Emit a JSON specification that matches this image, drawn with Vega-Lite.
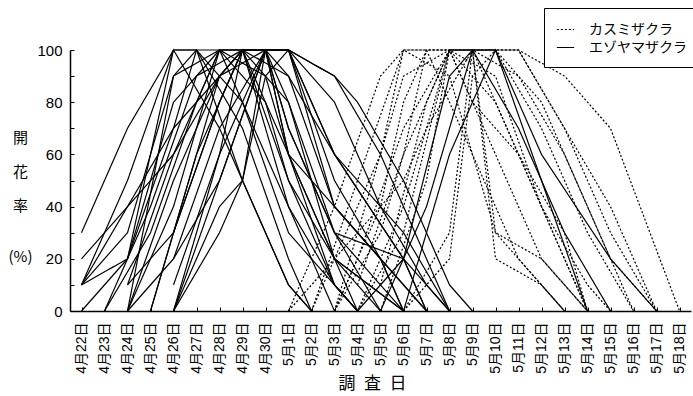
{
  "$schema": "https://vega.github.io/schema/vega-lite/v6.json",
  "width": 621,
  "height": 261,
  "autosize": {"type": "none"},
  "padding": {"left": 70, "top": 50, "right": 2, "bottom": 85},
  "background": "white",
  "config": {
    "view": {"stroke": null},
    "font": "Liberation Sans",
    "axis": {
      "grid": false,
      "domainColor": "black",
      "domainWidth": 1.5,
      "tickColor": "black",
      "tickWidth": 1,
      "labelColor": "black",
      "titleColor": "black",
      "titleFontWeight": "normal"
    }
  },
  "datasets": {
    "bloom": [
      {"tree": "E01", "species": "エゾヤマザクラ", "date": "4月22日", "pct": 30},
      {"tree": "E01", "species": "エゾヤマザクラ", "date": "4月24日", "pct": 70},
      {"tree": "E01", "species": "エゾヤマザクラ", "date": "4月26日", "pct": 100},
      {"tree": "E01", "species": "エゾヤマザクラ", "date": "4月28日", "pct": 100},
      {"tree": "E01", "species": "エゾヤマザクラ", "date": "4月30日", "pct": 60},
      {"tree": "E01", "species": "エゾヤマザクラ", "date": "5月2日", "pct": 20},
      {"tree": "E01", "species": "エゾヤマザクラ", "date": "5月3日", "pct": 0},

      {"tree": "E02", "species": "エゾヤマザクラ", "date": "4月22日", "pct": 20},
      {"tree": "E02", "species": "エゾヤマザクラ", "date": "4月24日", "pct": 40},
      {"tree": "E02", "species": "エゾヤマザクラ", "date": "4月26日", "pct": 60},
      {"tree": "E02", "species": "エゾヤマザクラ", "date": "4月28日", "pct": 90},
      {"tree": "E02", "species": "エゾヤマザクラ", "date": "4月29日", "pct": 100},
      {"tree": "E02", "species": "エゾヤマザクラ", "date": "5月1日", "pct": 60},
      {"tree": "E02", "species": "エゾヤマザクラ", "date": "5月3日", "pct": 20},
      {"tree": "E02", "species": "エゾヤマザクラ", "date": "5月4日", "pct": 0},

      {"tree": "E03", "species": "エゾヤマザクラ", "date": "4月22日", "pct": 10},
      {"tree": "E03", "species": "エゾヤマザクラ", "date": "4月24日", "pct": 30},
      {"tree": "E03", "species": "エゾヤマザクラ", "date": "4月26日", "pct": 90},
      {"tree": "E03", "species": "エゾヤマザクラ", "date": "4月27日", "pct": 100},
      {"tree": "E03", "species": "エゾヤマザクラ", "date": "4月29日", "pct": 70},
      {"tree": "E03", "species": "エゾヤマザクラ", "date": "5月1日", "pct": 20},
      {"tree": "E03", "species": "エゾヤマザクラ", "date": "5月2日", "pct": 0},

      {"tree": "E04", "species": "エゾヤマザクラ", "date": "4月22日", "pct": 10},
      {"tree": "E04", "species": "エゾヤマザクラ", "date": "4月24日", "pct": 20},
      {"tree": "E04", "species": "エゾヤマザクラ", "date": "4月26日", "pct": 80},
      {"tree": "E04", "species": "エゾヤマザクラ", "date": "4月28日", "pct": 100},
      {"tree": "E04", "species": "エゾヤマザクラ", "date": "4月30日", "pct": 100},
      {"tree": "E04", "species": "エゾヤマザクラ", "date": "5月1日", "pct": 80},
      {"tree": "E04", "species": "エゾヤマザクラ", "date": "5月3日", "pct": 30},
      {"tree": "E04", "species": "エゾヤマザクラ", "date": "5月5日", "pct": 0},

      {"tree": "E05", "species": "エゾヤマザクラ", "date": "4月22日", "pct": 10},
      {"tree": "E05", "species": "エゾヤマザクラ", "date": "4月24日", "pct": 50},
      {"tree": "E05", "species": "エゾヤマザクラ", "date": "4月26日", "pct": 100},
      {"tree": "E05", "species": "エゾヤマザクラ", "date": "4月28日", "pct": 70},
      {"tree": "E05", "species": "エゾヤマザクラ", "date": "4月30日", "pct": 30},
      {"tree": "E05", "species": "エゾヤマザクラ", "date": "5月1日", "pct": 10},
      {"tree": "E05", "species": "エゾヤマザクラ", "date": "5月2日", "pct": 0},

      {"tree": "E06", "species": "エゾヤマザクラ", "date": "4月22日", "pct": 0},
      {"tree": "E06", "species": "エゾヤマザクラ", "date": "4月24日", "pct": 20},
      {"tree": "E06", "species": "エゾヤマザクラ", "date": "4月26日", "pct": 70},
      {"tree": "E06", "species": "エゾヤマザクラ", "date": "4月28日", "pct": 90},
      {"tree": "E06", "species": "エゾヤマザクラ", "date": "4月29日", "pct": 100},
      {"tree": "E06", "species": "エゾヤマザクラ", "date": "5月1日", "pct": 40},
      {"tree": "E06", "species": "エゾヤマザクラ", "date": "5月3日", "pct": 10},
      {"tree": "E06", "species": "エゾヤマザクラ", "date": "5月4日", "pct": 0},

      {"tree": "E07", "species": "エゾヤマザクラ", "date": "4月23日", "pct": 0},
      {"tree": "E07", "species": "エゾヤマザクラ", "date": "4月25日", "pct": 40},
      {"tree": "E07", "species": "エゾヤマザクラ", "date": "4月27日", "pct": 90},
      {"tree": "E07", "species": "エゾヤマザクラ", "date": "4月29日", "pct": 100},
      {"tree": "E07", "species": "エゾヤマザクラ", "date": "4月30日", "pct": 100},
      {"tree": "E07", "species": "エゾヤマザクラ", "date": "5月1日", "pct": 60},
      {"tree": "E07", "species": "エゾヤマザクラ", "date": "5月3日", "pct": 20},
      {"tree": "E07", "species": "エゾヤマザクラ", "date": "5月6日", "pct": 0},

      {"tree": "E08", "species": "エゾヤマザクラ", "date": "4月24日", "pct": 0},
      {"tree": "E08", "species": "エゾヤマザクラ", "date": "4月26日", "pct": 50},
      {"tree": "E08", "species": "エゾヤマザクラ", "date": "4月28日", "pct": 90},
      {"tree": "E08", "species": "エゾヤマザクラ", "date": "4月30日", "pct": 100},
      {"tree": "E08", "species": "エゾヤマザクラ", "date": "5月1日", "pct": 100},
      {"tree": "E08", "species": "エゾヤマザクラ", "date": "5月3日", "pct": 60},
      {"tree": "E08", "species": "エゾヤマザクラ", "date": "5月6日", "pct": 20},
      {"tree": "E08", "species": "エゾヤマザクラ", "date": "5月8日", "pct": 0},

      {"tree": "E09", "species": "エゾヤマザクラ", "date": "4月24日", "pct": 0},
      {"tree": "E09", "species": "エゾヤマザクラ", "date": "4月26日", "pct": 40},
      {"tree": "E09", "species": "エゾヤマザクラ", "date": "4月28日", "pct": 100},
      {"tree": "E09", "species": "エゾヤマザクラ", "date": "4月29日", "pct": 100},
      {"tree": "E09", "species": "エゾヤマザクラ", "date": "5月1日", "pct": 50},
      {"tree": "E09", "species": "エゾヤマザクラ", "date": "5月3日", "pct": 10},
      {"tree": "E09", "species": "エゾヤマザクラ", "date": "5月4日", "pct": 0},

      {"tree": "E10", "species": "エゾヤマザクラ", "date": "4月24日", "pct": 0},
      {"tree": "E10", "species": "エゾヤマザクラ", "date": "4月26日", "pct": 90},
      {"tree": "E10", "species": "エゾヤマザクラ", "date": "4月28日", "pct": 100},
      {"tree": "E10", "species": "エゾヤマザクラ", "date": "4月30日", "pct": 80},
      {"tree": "E10", "species": "エゾヤマザクラ", "date": "5月1日", "pct": 50},
      {"tree": "E10", "species": "エゾヤマザクラ", "date": "5月3日", "pct": 20},
      {"tree": "E10", "species": "エゾヤマザクラ", "date": "5月5日", "pct": 0},

      {"tree": "E11", "species": "エゾヤマザクラ", "date": "4月24日", "pct": 10},
      {"tree": "E11", "species": "エゾヤマザクラ", "date": "4月26日", "pct": 30},
      {"tree": "E11", "species": "エゾヤマザクラ", "date": "4月28日", "pct": 80},
      {"tree": "E11", "species": "エゾヤマザクラ", "date": "4月29日", "pct": 100},
      {"tree": "E11", "species": "エゾヤマザクラ", "date": "5月1日", "pct": 90},
      {"tree": "E11", "species": "エゾヤマザクラ", "date": "5月3日", "pct": 40},
      {"tree": "E11", "species": "エゾヤマザクラ", "date": "5月6日", "pct": 10},
      {"tree": "E11", "species": "エゾヤマザクラ", "date": "5月7日", "pct": 0},

      {"tree": "E12", "species": "エゾヤマザクラ", "date": "4月24日", "pct": 10},
      {"tree": "E12", "species": "エゾヤマザクラ", "date": "4月26日", "pct": 60},
      {"tree": "E12", "species": "エゾヤマザクラ", "date": "4月28日", "pct": 100},
      {"tree": "E12", "species": "エゾヤマザクラ", "date": "4月30日", "pct": 100},
      {"tree": "E12", "species": "エゾヤマザクラ", "date": "5月1日", "pct": 70},
      {"tree": "E12", "species": "エゾヤマザクラ", "date": "5月3日", "pct": 30},
      {"tree": "E12", "species": "エゾヤマザクラ", "date": "5月6日", "pct": 20},
      {"tree": "E12", "species": "エゾヤマザクラ", "date": "5月7日", "pct": 0},

      {"tree": "E13", "species": "エゾヤマザクラ", "date": "4月24日", "pct": 20},
      {"tree": "E13", "species": "エゾヤマザクラ", "date": "4月26日", "pct": 100},
      {"tree": "E13", "species": "エゾヤマザクラ", "date": "4月27日", "pct": 100},
      {"tree": "E13", "species": "エゾヤマザクラ", "date": "4月29日", "pct": 50},
      {"tree": "E13", "species": "エゾヤマザクラ", "date": "5月1日", "pct": 10},
      {"tree": "E13", "species": "エゾヤマザクラ", "date": "5月2日", "pct": 0},

      {"tree": "E14", "species": "エゾヤマザクラ", "date": "4月25日", "pct": 0},
      {"tree": "E14", "species": "エゾヤマザクラ", "date": "4月27日", "pct": 60},
      {"tree": "E14", "species": "エゾヤマザクラ", "date": "4月29日", "pct": 100},
      {"tree": "E14", "species": "エゾヤマザクラ", "date": "4月30日", "pct": 100},
      {"tree": "E14", "species": "エゾヤマザクラ", "date": "5月1日", "pct": 60},
      {"tree": "E14", "species": "エゾヤマザクラ", "date": "5月3日", "pct": 10},
      {"tree": "E14", "species": "エゾヤマザクラ", "date": "5月4日", "pct": 0},

      {"tree": "E15", "species": "エゾヤマザクラ", "date": "4月26日", "pct": 0},
      {"tree": "E15", "species": "エゾヤマザクラ", "date": "4月28日", "pct": 40},
      {"tree": "E15", "species": "エゾヤマザクラ", "date": "4月29日", "pct": 50},
      {"tree": "E15", "species": "エゾヤマザクラ", "date": "4月30日", "pct": 100},
      {"tree": "E15", "species": "エゾヤマザクラ", "date": "5月1日", "pct": 100},
      {"tree": "E15", "species": "エゾヤマザクラ", "date": "5月3日", "pct": 50},
      {"tree": "E15", "species": "エゾヤマザクラ", "date": "5月5日", "pct": 20},
      {"tree": "E15", "species": "エゾヤマザクラ", "date": "5月6日", "pct": 0},

      {"tree": "E16", "species": "エゾヤマザクラ", "date": "4月26日", "pct": 0},
      {"tree": "E16", "species": "エゾヤマザクラ", "date": "4月28日", "pct": 60},
      {"tree": "E16", "species": "エゾヤマザクラ", "date": "4月30日", "pct": 100},
      {"tree": "E16", "species": "エゾヤマザクラ", "date": "5月1日", "pct": 100},
      {"tree": "E16", "species": "エゾヤマザクラ", "date": "5月3日", "pct": 90},
      {"tree": "E16", "species": "エゾヤマザクラ", "date": "5月4日", "pct": 80},
      {"tree": "E16", "species": "エゾヤマザクラ", "date": "5月6日", "pct": 50},
      {"tree": "E16", "species": "エゾヤマザクラ", "date": "5月8日", "pct": 10},
      {"tree": "E16", "species": "エゾヤマザクラ", "date": "5月9日", "pct": 0},

      {"tree": "E17", "species": "エゾヤマザクラ", "date": "4月26日", "pct": 0},
      {"tree": "E17", "species": "エゾヤマザクラ", "date": "4月28日", "pct": 50},
      {"tree": "E17", "species": "エゾヤマザクラ", "date": "4月30日", "pct": 100},
      {"tree": "E17", "species": "エゾヤマザクラ", "date": "5月1日", "pct": 100},
      {"tree": "E17", "species": "エゾヤマザクラ", "date": "5月3日", "pct": 90},
      {"tree": "E17", "species": "エゾヤマザクラ", "date": "5月5日", "pct": 60},
      {"tree": "E17", "species": "エゾヤマザクラ", "date": "5月7日", "pct": 20},
      {"tree": "E17", "species": "エゾヤマザクラ", "date": "5月8日", "pct": 0},

      {"tree": "E18", "species": "エゾヤマザクラ", "date": "4月26日", "pct": 10},
      {"tree": "E18", "species": "エゾヤマザクラ", "date": "4月28日", "pct": 60},
      {"tree": "E18", "species": "エゾヤマザクラ", "date": "4月29日", "pct": 100},
      {"tree": "E18", "species": "エゾヤマザクラ", "date": "5月1日", "pct": 80},
      {"tree": "E18", "species": "エゾヤマザクラ", "date": "5月3日", "pct": 20},
      {"tree": "E18", "species": "エゾヤマザクラ", "date": "5月6日", "pct": 0},

      {"tree": "E19", "species": "エゾヤマザクラ", "date": "4月26日", "pct": 20},
      {"tree": "E19", "species": "エゾヤマザクラ", "date": "4月28日", "pct": 70},
      {"tree": "E19", "species": "エゾヤマザクラ", "date": "4月30日", "pct": 100},
      {"tree": "E19", "species": "エゾヤマザクラ", "date": "5月1日", "pct": 70},
      {"tree": "E19", "species": "エゾヤマザクラ", "date": "5月3日", "pct": 30},
      {"tree": "E19", "species": "エゾヤマザクラ", "date": "5月5日", "pct": 10},
      {"tree": "E19", "species": "エゾヤマザクラ", "date": "5月6日", "pct": 0},

      {"tree": "E20", "species": "エゾヤマザクラ", "date": "4月26日", "pct": 30},
      {"tree": "E20", "species": "エゾヤマザクラ", "date": "4月28日", "pct": 80},
      {"tree": "E20", "species": "エゾヤマザクラ", "date": "4月29日", "pct": 100},
      {"tree": "E20", "species": "エゾヤマザクラ", "date": "4月30日", "pct": 100},
      {"tree": "E20", "species": "エゾヤマザクラ", "date": "5月1日", "pct": 90},
      {"tree": "E20", "species": "エゾヤマザクラ", "date": "5月3日", "pct": 60},
      {"tree": "E20", "species": "エゾヤマザクラ", "date": "5月6日", "pct": 20},
      {"tree": "E20", "species": "エゾヤマザクラ", "date": "5月7日", "pct": 0},

      {"tree": "E21", "species": "エゾヤマザクラ", "date": "5月4日", "pct": 0},
      {"tree": "E21", "species": "エゾヤマザクラ", "date": "5月6日", "pct": 20},
      {"tree": "E21", "species": "エゾヤマザクラ", "date": "5月8日", "pct": 90},
      {"tree": "E21", "species": "エゾヤマザクラ", "date": "5月9日", "pct": 100},
      {"tree": "E21", "species": "エゾヤマザクラ", "date": "5月11日", "pct": 70},
      {"tree": "E21", "species": "エゾヤマザクラ", "date": "5月13日", "pct": 30},
      {"tree": "E21", "species": "エゾヤマザクラ", "date": "5月15日", "pct": 0},

      {"tree": "E22", "species": "エゾヤマザクラ", "date": "5月5日", "pct": 0},
      {"tree": "E22", "species": "エゾヤマザクラ", "date": "5月7日", "pct": 40},
      {"tree": "E22", "species": "エゾヤマザクラ", "date": "5月9日", "pct": 100},
      {"tree": "E22", "species": "エゾヤマザクラ", "date": "5月10日", "pct": 100},
      {"tree": "E22", "species": "エゾヤマザクラ", "date": "5月12日", "pct": 50},
      {"tree": "E22", "species": "エゾヤマザクラ", "date": "5月14日", "pct": 0},

      {"tree": "E23", "species": "エゾヤマザクラ", "date": "5月6日", "pct": 0},
      {"tree": "E23", "species": "エゾヤマザクラ", "date": "5月8日", "pct": 60},
      {"tree": "E23", "species": "エゾヤマザクラ", "date": "5月10日", "pct": 100},
      {"tree": "E23", "species": "エゾヤマザクラ", "date": "5月12日", "pct": 60},
      {"tree": "E23", "species": "エゾヤマザクラ", "date": "5月15日", "pct": 20},
      {"tree": "E23", "species": "エゾヤマザクラ", "date": "5月17日", "pct": 0},

      {"tree": "E24", "species": "エゾヤマザクラ", "date": "4月22日", "pct": 10},
      {"tree": "E24", "species": "エゾヤマザクラ", "date": "4月24日", "pct": 40},
      {"tree": "E24", "species": "エゾヤマザクラ", "date": "4月26日", "pct": 70},
      {"tree": "E24", "species": "エゾヤマザクラ", "date": "4月27日", "pct": 100},
      {"tree": "E24", "species": "エゾヤマザクラ", "date": "4月29日", "pct": 80},
      {"tree": "E24", "species": "エゾヤマザクラ", "date": "5月1日", "pct": 30},
      {"tree": "E24", "species": "エゾヤマザクラ", "date": "5月3日", "pct": 10},
      {"tree": "E24", "species": "エゾヤマザクラ", "date": "5月4日", "pct": 0},

      {"tree": "E25", "species": "エゾヤマザクラ", "date": "4月23日", "pct": 0},
      {"tree": "E25", "species": "エゾヤマザクラ", "date": "4月25日", "pct": 30},
      {"tree": "E25", "species": "エゾヤマザクラ", "date": "4月27日", "pct": 80},
      {"tree": "E25", "species": "エゾヤマザクラ", "date": "4月28日", "pct": 100},
      {"tree": "E25", "species": "エゾヤマザクラ", "date": "4月30日", "pct": 90},
      {"tree": "E25", "species": "エゾヤマザクラ", "date": "5月1日", "pct": 60},
      {"tree": "E25", "species": "エゾヤマザクラ", "date": "5月3日", "pct": 40},
      {"tree": "E25", "species": "エゾヤマザクラ", "date": "5月5日", "pct": 20},
      {"tree": "E25", "species": "エゾヤマザクラ", "date": "5月6日", "pct": 0},

      {"tree": "E26", "species": "エゾヤマザクラ", "date": "4月25日", "pct": 0},
      {"tree": "E26", "species": "エゾヤマザクラ", "date": "4月26日", "pct": 30},
      {"tree": "E26", "species": "エゾヤマザクラ", "date": "4月28日", "pct": 90},
      {"tree": "E26", "species": "エゾヤマザクラ", "date": "4月29日", "pct": 100},
      {"tree": "E26", "species": "エゾヤマザクラ", "date": "5月1日", "pct": 100},
      {"tree": "E26", "species": "エゾヤマザクラ", "date": "5月3日", "pct": 40},
      {"tree": "E26", "species": "エゾヤマザクラ", "date": "5月5日", "pct": 20},
      {"tree": "E26", "species": "エゾヤマザクラ", "date": "5月7日", "pct": 0},

      {"tree": "E27", "species": "エゾヤマザクラ", "date": "4月26日", "pct": 0},
      {"tree": "E27", "species": "エゾヤマザクラ", "date": "4月28日", "pct": 30},
      {"tree": "E27", "species": "エゾヤマザクラ", "date": "4月29日", "pct": 50},
      {"tree": "E27", "species": "エゾヤマザクラ", "date": "4月30日", "pct": 90},
      {"tree": "E27", "species": "エゾヤマザクラ", "date": "5月1日", "pct": 100},
      {"tree": "E27", "species": "エゾヤマザクラ", "date": "5月3日", "pct": 60},
      {"tree": "E27", "species": "エゾヤマザクラ", "date": "5月6日", "pct": 30},
      {"tree": "E27", "species": "エゾヤマザクラ", "date": "5月8日", "pct": 0},

      {"tree": "E28", "species": "エゾヤマザクラ", "date": "4月24日", "pct": 0},
      {"tree": "E28", "species": "エゾヤマザクラ", "date": "4月26日", "pct": 20},
      {"tree": "E28", "species": "エゾヤマザクラ", "date": "4月28日", "pct": 50},
      {"tree": "E28", "species": "エゾヤマザクラ", "date": "4月30日", "pct": 100},
      {"tree": "E28", "species": "エゾヤマザクラ", "date": "5月1日", "pct": 100},
      {"tree": "E28", "species": "エゾヤマザクラ", "date": "5月3日", "pct": 80},
      {"tree": "E28", "species": "エゾヤマザクラ", "date": "5月5日", "pct": 40},
      {"tree": "E28", "species": "エゾヤマザクラ", "date": "5月7日", "pct": 10},
      {"tree": "E28", "species": "エゾヤマザクラ", "date": "5月8日", "pct": 0},

      {"tree": "K01", "species": "カスミザクラ", "date": "5月1日", "pct": 0},
      {"tree": "K01", "species": "カスミザクラ", "date": "5月3日", "pct": 40},
      {"tree": "K01", "species": "カスミザクラ", "date": "5月5日", "pct": 90},
      {"tree": "K01", "species": "カスミザクラ", "date": "5月6日", "pct": 100},
      {"tree": "K01", "species": "カスミザクラ", "date": "5月8日", "pct": 100},
      {"tree": "K01", "species": "カスミザクラ", "date": "5月10日", "pct": 60},
      {"tree": "K01", "species": "カスミザクラ", "date": "5月12日", "pct": 20},
      {"tree": "K01", "species": "カスミザクラ", "date": "5月14日", "pct": 0},

      {"tree": "K02", "species": "カスミザクラ", "date": "5月2日", "pct": 0},
      {"tree": "K02", "species": "カスミザクラ", "date": "5月4日", "pct": 50},
      {"tree": "K02", "species": "カスミザクラ", "date": "5月6日", "pct": 100},
      {"tree": "K02", "species": "カスミザクラ", "date": "5月7日", "pct": 100},
      {"tree": "K02", "species": "カスミザクラ", "date": "5月9日", "pct": 60},
      {"tree": "K02", "species": "カスミザクラ", "date": "5月11日", "pct": 20},
      {"tree": "K02", "species": "カスミザクラ", "date": "5月13日", "pct": 0},

      {"tree": "K03", "species": "カスミザクラ", "date": "5月3日", "pct": 0},
      {"tree": "K03", "species": "カスミザクラ", "date": "5月5日", "pct": 60},
      {"tree": "K03", "species": "カスミザクラ", "date": "5月6日", "pct": 100},
      {"tree": "K03", "species": "カスミザクラ", "date": "5月8日", "pct": 90},
      {"tree": "K03", "species": "カスミザクラ", "date": "5月10日", "pct": 30},
      {"tree": "K03", "species": "カスミザクラ", "date": "5月12日", "pct": 20},
      {"tree": "K03", "species": "カスミザクラ", "date": "5月14日", "pct": 0},

      {"tree": "K04", "species": "カスミザクラ", "date": "5月3日", "pct": 0},
      {"tree": "K04", "species": "カスミザクラ", "date": "5月5日", "pct": 40},
      {"tree": "K04", "species": "カスミザクラ", "date": "5月6日", "pct": 80},
      {"tree": "K04", "species": "カスミザクラ", "date": "5月7日", "pct": 100},
      {"tree": "K04", "species": "カスミザクラ", "date": "5月9日", "pct": 100},
      {"tree": "K04", "species": "カスミザクラ", "date": "5月10日", "pct": 30},
      {"tree": "K04", "species": "カスミザクラ", "date": "5月12日", "pct": 10},
      {"tree": "K04", "species": "カスミザクラ", "date": "5月13日", "pct": 0},

      {"tree": "K05", "species": "カスミザクラ", "date": "5月3日", "pct": 0},
      {"tree": "K05", "species": "カスミザクラ", "date": "5月4日", "pct": 20},
      {"tree": "K05", "species": "カスミザクラ", "date": "5月6日", "pct": 70},
      {"tree": "K05", "species": "カスミザクラ", "date": "5月8日", "pct": 100},
      {"tree": "K05", "species": "カスミザクラ", "date": "5月10日", "pct": 80},
      {"tree": "K05", "species": "カスミザクラ", "date": "5月12日", "pct": 40},
      {"tree": "K05", "species": "カスミザクラ", "date": "5月14日", "pct": 0},

      {"tree": "K06", "species": "カスミザクラ", "date": "5月4日", "pct": 0},
      {"tree": "K06", "species": "カスミザクラ", "date": "5月6日", "pct": 30},
      {"tree": "K06", "species": "カスミザクラ", "date": "5月8日", "pct": 100},
      {"tree": "K06", "species": "カスミザクラ", "date": "5月9日", "pct": 100},
      {"tree": "K06", "species": "カスミザクラ", "date": "5月11日", "pct": 60},
      {"tree": "K06", "species": "カスミザクラ", "date": "5月13日", "pct": 20},
      {"tree": "K06", "species": "カスミザクラ", "date": "5月14日", "pct": 0},

      {"tree": "K07", "species": "カスミザクラ", "date": "5月5日", "pct": 0},
      {"tree": "K07", "species": "カスミザクラ", "date": "5月7日", "pct": 50},
      {"tree": "K07", "species": "カスミザクラ", "date": "5月8日", "pct": 100},
      {"tree": "K07", "species": "カスミザクラ", "date": "5月10日", "pct": 100},
      {"tree": "K07", "species": "カスミザクラ", "date": "5月12日", "pct": 70},
      {"tree": "K07", "species": "カスミザクラ", "date": "5月14日", "pct": 30},
      {"tree": "K07", "species": "カスミザクラ", "date": "5月16日", "pct": 0},

      {"tree": "K08", "species": "カスミザクラ", "date": "5月6日", "pct": 0},
      {"tree": "K08", "species": "カスミザクラ", "date": "5月8日", "pct": 30},
      {"tree": "K08", "species": "カスミザクラ", "date": "5月9日", "pct": 100},
      {"tree": "K08", "species": "カスミザクラ", "date": "5月11日", "pct": 100},
      {"tree": "K08", "species": "カスミザクラ", "date": "5月13日", "pct": 90},
      {"tree": "K08", "species": "カスミザクラ", "date": "5月15日", "pct": 70},
      {"tree": "K08", "species": "カスミザクラ", "date": "5月18日", "pct": 0},

      {"tree": "K09", "species": "カスミザクラ", "date": "5月6日", "pct": 0},
      {"tree": "K09", "species": "カスミザクラ", "date": "5月8日", "pct": 20},
      {"tree": "K09", "species": "カスミザクラ", "date": "5月9日", "pct": 90},
      {"tree": "K09", "species": "カスミザクラ", "date": "5月10日", "pct": 100},
      {"tree": "K09", "species": "カスミザクラ", "date": "5月12日", "pct": 80},
      {"tree": "K09", "species": "カスミザクラ", "date": "5月14日", "pct": 40},
      {"tree": "K09", "species": "カスミザクラ", "date": "5月16日", "pct": 0},

      {"tree": "K10", "species": "カスミザクラ", "date": "5月5日", "pct": 10},
      {"tree": "K10", "species": "カスミザクラ", "date": "5月7日", "pct": 80},
      {"tree": "K10", "species": "カスミザクラ", "date": "5月8日", "pct": 100},
      {"tree": "K10", "species": "カスミザクラ", "date": "5月10日", "pct": 90},
      {"tree": "K10", "species": "カスミザクラ", "date": "5月12日", "pct": 40},
      {"tree": "K10", "species": "カスミザクラ", "date": "5月14日", "pct": 10},
      {"tree": "K10", "species": "カスミザクラ", "date": "5月15日", "pct": 0},

      {"tree": "K11", "species": "カスミザクラ", "date": "5月2日", "pct": 0},
      {"tree": "K11", "species": "カスミザクラ", "date": "5月5日", "pct": 60},
      {"tree": "K11", "species": "カスミザクラ", "date": "5月6日", "pct": 90},
      {"tree": "K11", "species": "カスミザクラ", "date": "5月8日", "pct": 100},
      {"tree": "K11", "species": "カスミザクラ", "date": "5月9日", "pct": 80},
      {"tree": "K11", "species": "カスミザクラ", "date": "5月11日", "pct": 60},
      {"tree": "K11", "species": "カスミザクラ", "date": "5月13日", "pct": 30},
      {"tree": "K11", "species": "カスミザクラ", "date": "5月14日", "pct": 0},

      {"tree": "K12", "species": "カスミザクラ", "date": "5月4日", "pct": 10},
      {"tree": "K12", "species": "カスミザクラ", "date": "5月6日", "pct": 60},
      {"tree": "K12", "species": "カスミザクラ", "date": "5月7日", "pct": 100},
      {"tree": "K12", "species": "カスミザクラ", "date": "5月10日", "pct": 100},
      {"tree": "K12", "species": "カスミザクラ", "date": "5月11日", "pct": 100},
      {"tree": "K12", "species": "カスミザクラ", "date": "5月13日", "pct": 70},
      {"tree": "K12", "species": "カスミザクラ", "date": "5月15日", "pct": 30},
      {"tree": "K12", "species": "カスミザクラ", "date": "5月17日", "pct": 0},

      {"tree": "K13", "species": "カスミザクラ", "date": "5月1日", "pct": 0},
      {"tree": "K13", "species": "カスミザクラ", "date": "5月4日", "pct": 30},
      {"tree": "K13", "species": "カスミザクラ", "date": "5月6日", "pct": 50},
      {"tree": "K13", "species": "カスミザクラ", "date": "5月7日", "pct": 70},
      {"tree": "K13", "species": "カスミザクラ", "date": "5月9日", "pct": 100},
      {"tree": "K13", "species": "カスミザクラ", "date": "5月11日", "pct": 90},
      {"tree": "K13", "species": "カスミザクラ", "date": "5月13日", "pct": 60},
      {"tree": "K13", "species": "カスミザクラ", "date": "5月15日", "pct": 20},
      {"tree": "K13", "species": "カスミザクラ", "date": "5月17日", "pct": 0},

      {"tree": "K14", "species": "カスミザクラ", "date": "5月3日", "pct": 0},
      {"tree": "K14", "species": "カスミザクラ", "date": "5月5日", "pct": 30},
      {"tree": "K14", "species": "カスミザクラ", "date": "5月6日", "pct": 60},
      {"tree": "K14", "species": "カスミザクラ", "date": "5月8日", "pct": 100},
      {"tree": "K14", "species": "カスミザクラ", "date": "5月9日", "pct": 100},
      {"tree": "K14", "species": "カスミザクラ", "date": "5月10日", "pct": 20},
      {"tree": "K14", "species": "カスミザクラ", "date": "5月12日", "pct": 10},
      {"tree": "K14", "species": "カスミザクラ", "date": "5月13日", "pct": 0},

      {"tree": "K15", "species": "カスミザクラ", "date": "5月4日", "pct": 0},
      {"tree": "K15", "species": "カスミザクラ", "date": "5月6日", "pct": 40},
      {"tree": "K15", "species": "カスミザクラ", "date": "5月8日", "pct": 100},
      {"tree": "K15", "species": "カスミザクラ", "date": "5月11日", "pct": 100},
      {"tree": "K15", "species": "カスミザクラ", "date": "5月13日", "pct": 70},
      {"tree": "K15", "species": "カスミザクラ", "date": "5月15日", "pct": 40},
      {"tree": "K15", "species": "カスミザクラ", "date": "5月17日", "pct": 0}
    ]
  },
  "data": {"name": "bloom"},
  "mark": {"type": "line", "color": "black", "strokeWidth": 1.2},
  "encoding": {
    "x": {
      "field": "date",
      "type": "ordinal",
      "sort": null,
      "scale": {
        "type": "point",
        "padding": 0.5,
        "domain": ["4月22日", "4月23日", "4月24日", "4月25日", "4月26日", "4月27日", "4月28日", "4月29日", "4月30日", "5月1日", "5月2日", "5月3日", "5月4日", "5月5日", "5月6日", "5月7日", "5月8日", "5月9日", "5月10日", "5月11日", "5月12日", "5月13日", "5月14日", "5月15日", "5月16日", "5月17日", "5月18日"]
      },
      "axis": {
        "title": "調\u2002査\u2002日",
        "titleFont": "Noto Sans CJK JP",
        "titleFontSize": 17,
        "titleX": 302,
        "titleY": 72,
        "titleBaseline": "middle",
        "labelAngle": -90,
        "labelFont": "Liberation Sans, Noto Sans CJK JP",
        "labelFontSize": 14,
        "labelOverlap": false,
        "labelPadding": 15,
        "tickSize": -4
      }
    },
    "y": {
      "field": "pct",
      "type": "quantitative",
      "scale": {"domain": [0, 100]},
      "axis": {
        "title": ["開", "\u2800", "花", "\u2800", "率", "\u2800", "\u2800", "(%)"],
        "titleFont": "Noto Sans CJK JP, DejaVu Sans",
        "titleAngle": 0,
        "titleFontSize": 15,
        "titleLineHeight": 17,
        "titleAlign": "center",
        "titleBaseline": "top",
        "titleX": -50,
        "titleY": 80,
        "values": [0, 10, 20, 30, 40, 50, 60, 70, 80, 90, 100],
        "labelExpr": "datum.value % 20 == 0 ? datum.label : ''",
        "labelFontSize": 15,
        "labelPadding": 12,
        "tickSize": -4
      }
    },
    "detail": {"field": "tree"},
    "strokeDash": {
      "field": "species",
      "type": "nominal",
      "scale": {"domain": ["カスミザクラ", "エゾヤマザクラ"], "range": [[2, 2], [1, 0]]},
      "legend": {
        "orient": "none",
        "legendX": 474,
        "legendY": -42,
        "title": null,
        "strokeColor": "black",
        "fillColor": "white",
        "padding": 12,
        "symbolType": "stroke",
        "symbolStrokeColor": "black",
        "symbolStrokeWidth": 1.2,
        "symbolSize": 300,
        "labelFont": "Noto Sans CJK JP",
        "labelFontSize": 14,
        "labelColor": "black",
        "labelOffset": 14,
        "rowPadding": 1
      }
    }
  }
}
